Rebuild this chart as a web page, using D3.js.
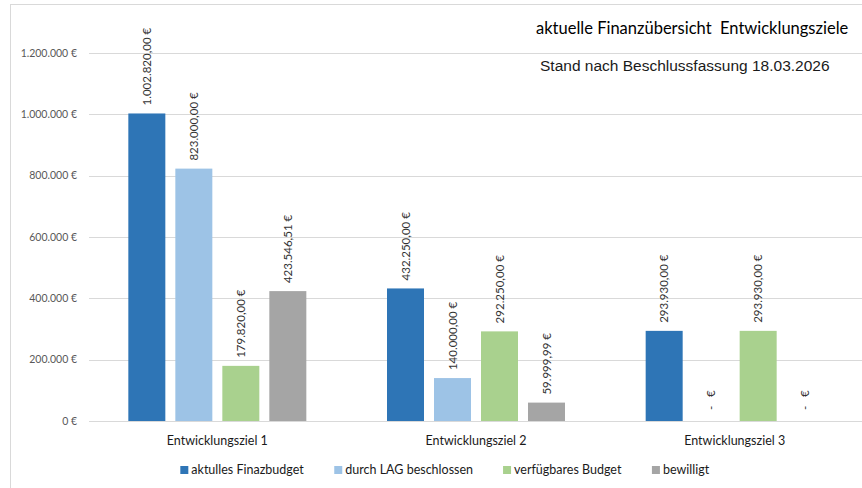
<!DOCTYPE html>
<html>
<head>
<meta charset="utf-8">
<script src="https://cdn.jsdelivr.net/npm/d3@7"></script>
<style>
  body { margin: 0; background: #fff; }
  svg { display: block; }
</style>
</head>
<body>
<div id="chart"></div>
<script>
var categories = ["Entwicklungsziel 1", "Entwicklungsziel 2", "Entwicklungsziel 3"];
var seriesNames = ["aktulles Finazbudget", "durch LAG beschlossen", "verfügbares Budget", "bewilligt"];
var seriesColors = ["#2e75b6", "#9dc3e6", "#a9d18e", "#a5a5a5"];
var finanzbudget = [1002820.00, 432250.00, 293930.00];
var beschlossen = [823000.00, 140000.00, 0];
var verfuegbar = [179820.00, 292250.00, 293930.00];
var bewilligt = [423546.51, 59999.99, 0];
var yTicks = [0, 200000, 400000, 600000, 800000, 1000000, 1200000];

var seriesValues = [finanzbudget, beschlossen, verfuegbar, bewilligt];

var width = 862, height = 488;
var margin = {top: 53, left: 88, right: 864, bottom: 421};

var svg = d3.select("#chart").append("svg")
  .attr("width", width)
  .attr("height", height);

// chart frame
svg.append("rect")
  .attr("x", 10.5).attr("y", 4.5)
  .attr("width", 900).attr("height", 520)
  .attr("fill", "none")
  .attr("stroke", "#d9d9d9");

var de = d3.formatLocale({decimal: ",", thousands: ".", grouping: [3], currency: ["", " €"]});
var tickFmt = de.format(",.0f");
var valFmt = de.format(",.2f");

var x0 = d3.scaleBand().domain(categories).range([margin.left, margin.right]);
var x1 = d3.scaleBand().domain(d3.range(4)).range([0, 178]).paddingInner(10 / 47);
var groupOff = (x0.bandwidth() - 178) / 2;

var y = d3.scaleLinear().domain([0, 1200000]).range([margin.bottom, margin.top]);

// gridlines
svg.append("g").selectAll("line").data(yTicks).enter().append("line")
  .attr("x1", margin.left + 1).attr("x2", width)
  .attr("y1", function(d){ return Math.round(y(d)) + 0.5; })
  .attr("y2", function(d){ return Math.round(y(d)) + 0.5; })
  .attr("stroke", "#d9d9d9")
  .attr("stroke-width", 1);

// y tick labels
svg.append("g").selectAll("text").data(yTicks).enter().append("text")
  .attr("x", 77)
  .attr("y", function(d){ return y(d); })
  .attr("dy", "0.35em")
  .attr("text-anchor", "end")
  .attr("font-family", "Lato, 'Open Sans', sans-serif")
  .attr("font-size", "10.5px")
  .attr("fill", "#595959")
  .text(function(d){ return tickFmt(d) + " €"; });

// bars
var bars = [];
categories.forEach(function(c, i){
  seriesValues.forEach(function(s, j){
    bars.push({cat: c, s: j, v: s[i]});
  });
});

svg.append("g").selectAll("rect").data(bars).enter().append("rect")
  .attr("x", function(d){ return x0(d.cat) + groupOff + x1(d.s); })
  .attr("y", function(d){ return y(d.v); })
  .attr("width", x1.bandwidth())
  .attr("height", function(d){ return y(0) - y(d.v); })
  .attr("fill", function(d){ return seriesColors[d.s]; });

// data labels (rotated)
svg.append("g").selectAll("text").data(bars).enter().append("text")
  .attr("transform", function(d){
    var cx = x0(d.cat) + groupOff + x1(d.s) + x1.bandwidth() / 2;
    return "translate(" + cx + "," + (y(d.v) - 8) + ") rotate(-90)";
  })
  .attr("dy", "0.35em")
  .attr("text-anchor", "start")
  .attr("font-family", "Lato, 'Open Sans', sans-serif")
  .attr("font-size", "11.5px")
  .attr("fill", "#333")
  .attr("xml:space", "preserve")
  .style("white-space", "pre")
  .text(function(d){ return d.v === 0 ? " -   € " : valFmt(d.v) + " €"; });

// category labels
svg.append("g").selectAll("text").data(categories).enter().append("text")
  .attr("x", function(d){ return x0(d) + x0.bandwidth() / 2; })
  .attr("y", 445)
  .attr("text-anchor", "middle")
  .attr("font-family", "Lato, 'Open Sans', sans-serif")
  .attr("font-size", "12.5px")
  .attr("fill", "#1a1a1a")
  .text(function(d){ return d; });

// legend
var legend = svg.append("g");
var items = legend.selectAll("g").data(seriesNames).enter().append("g");
items.append("rect")
  .attr("width", 8).attr("height", 8)
  .attr("y", -4)
  .attr("fill", function(d, i){ return seriesColors[i]; });
items.append("text")
  .attr("x", 11)
  .attr("dy", "0.35em")
  .attr("font-family", "Lato, 'Open Sans', sans-serif")
  .attr("font-size", "12.5px")
  .attr("fill", "#1a1a1a")
  .text(function(d){ return d; });

var lx = 0, pos = [];
items.each(function(){
  pos.push(lx);
  lx += this.getBBox().width + 30;
});
var total = lx - 30;
var startX = 445 - total / 2;
items.attr("transform", function(d, i){ return "translate(" + (startX + pos[i]) + ",470)"; });

// title texts
svg.append("text")
  .attr("x", 536).attr("y", 34)
  .attr("font-family", "Lato, 'Open Sans', sans-serif")
  .attr("font-size", "16.5px")
  .attr("fill", "#000")
  .attr("xml:space", "preserve")
  .style("white-space", "pre")
  .text("aktuelle Finanzübersicht  Entwicklungsziele");

svg.append("text")
  .attr("x", 540).attr("y", 71)
  .attr("font-family", "'Liberation Sans', Arial, sans-serif")
  .attr("font-size", "15.5px")
  .attr("fill", "#1a1a1a")
  .text("Stand nach Beschlussfassung 18.03.2026");
</script>
</body>
</html>
